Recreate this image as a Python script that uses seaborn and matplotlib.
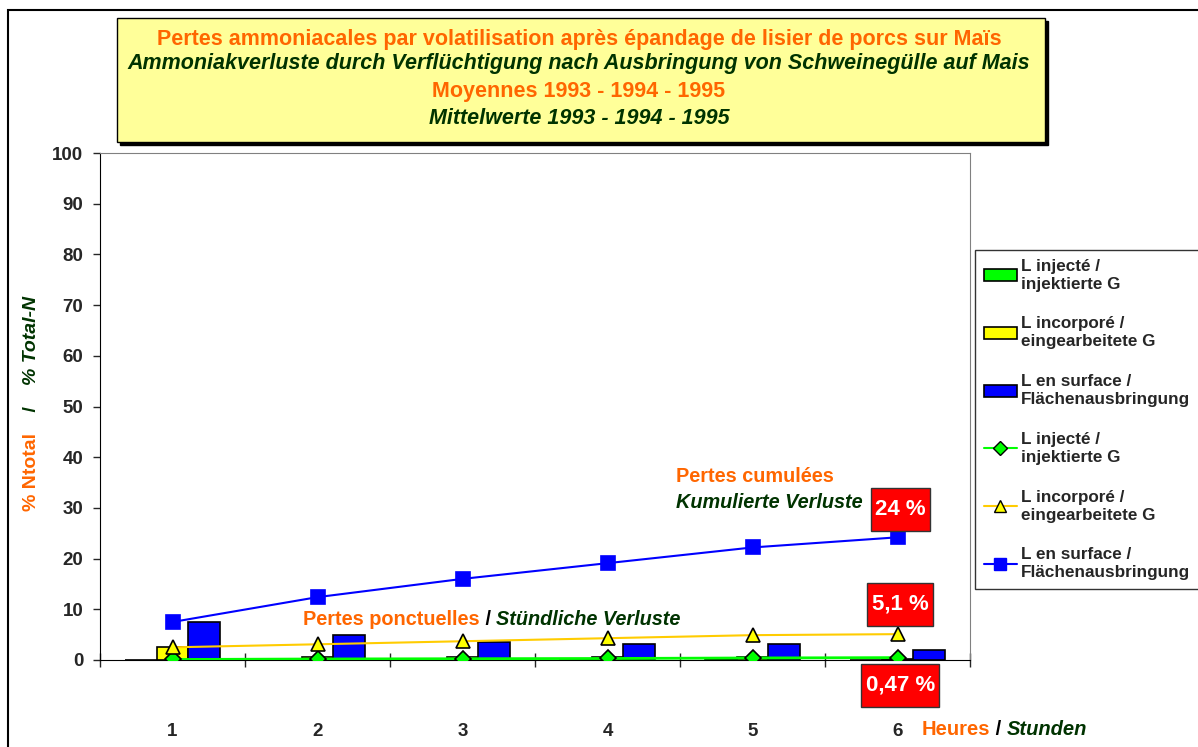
import numpy as np
import pandas as pd
import matplotlib
matplotlib.use("Agg")
import matplotlib.pyplot as plt
import seaborn as sns
from matplotlib.patches import Patch, Rectangle
from matplotlib.lines import Line2D

# données
hours = ["1", "2", "3", "4", "5", "6"]
series = ["L injecté /\ninjektierte G", "L incorporé /\neingearbeitete G",
          "L en surface /\nFlächenausbringung"]
# pertes ponctuelles (barres)
hourly_inj = [0.0, 0.1, 0.1, 0.1, 0.1, 0.05]
hourly_inc = [2.5, 0.6, 0.5, 0.5, 0.6, 0.2]
hourly_surf = [7.5, 4.9, 3.5, 3.2, 3.1, 2.0]
# pertes cumulées (courbes)
cum_inj = [0.1, 0.2, 0.25, 0.3, 0.4, 0.47]
cum_inc = [2.5, 3.1, 3.7, 4.3, 4.9, 5.1]
cum_surf = [7.5, 12.4, 16.0, 19.1, 22.2, 24.2]
final_labels = ["0,47 %", "5,1 %", "24 %"]

ORANGE = "#FF6600"
DKGREEN = "#003300"
bar_colors = ["#00FF00", "#FFFF00", "#0000FF"]
line_colors = ["#00FF00", "#FFCC00", "#0000FF"]
W, H = 1198, 747

sns.set_style("white")
plt.rcParams["font.family"] = ["Liberation Sans", "DejaVu Sans"]
plt.rcParams["font.weight"] = "bold"

df = pd.DataFrame({
    "heure": hours * 3,
    "serie": np.repeat(series, 6),
    "valeur": hourly_inj + hourly_inc + hourly_surf,
})

fig = plt.figure(figsize=(W / 100, H / 100), dpi=100)
ax = fig.add_axes([100 / W, 87 / H, 870 / W, 507 / H])

sns.barplot(data=df, x="heure", y="valeur", hue="serie", hue_order=series,
            palette=bar_colors, width=0.66, edgecolor="black", linewidth=1.2,
            saturation=1, legend=False, ax=ax)

markers = ["D", "^", "s"]
msizes = [8, 10, 10]
edges = ["black", "black", "#0000FF"]
faces = ["#00FF00", "#FFFF00", "#0000FF"]
for vals, col, mk, ms, ec, fc, lw in zip([cum_inj, cum_inc, cum_surf], line_colors,
                                         markers, msizes, edges, faces, [2.0, 1.5, 1.5]):
    sns.lineplot(x=np.arange(len(hours)), y=vals, color=col, marker=mk,
                 markersize=ms, markeredgecolor=ec, markeredgewidth=1.2,
                 markerfacecolor=fc, linewidth=lw, ax=ax, zorder=5)

ax.set_xlim(-0.5, 5.5)
ax.set_ylim(0, 100)
ax.set_yticks(range(0, 101, 10))
ax.set_xlabel("")
ax.set_ylabel("")
for s in ["top", "right"]:
    ax.spines[s].set_color("#808080")
for s in ["left", "bottom"]:
    ax.spines[s].set_color("black")
ax.tick_params(axis="y", left=True, direction="out", length=5, width=1,
               labelsize=13.5, pad=7)
ax.tick_params(axis="x", which="major", length=0, labelsize=13.5, pad=45)
ax.set_xticks(np.arange(-0.5, 5.6, 1), minor=True)
ax.tick_params(axis="x", which="minor", bottom=True, direction="inout",
               length=10, width=1)
for lab in ax.get_xticklabels() + ax.get_yticklabels():
    lab.set_fontweight("bold")

# étiquettes rouges (centre y, largeur en px)
px_x = 1 / 145.0
px_y = 100 / 507.0
for txt, yv, wpx in zip(final_labels, [-5.0, 10.95, 29.6], [78, 66, 59]):
    xc = 5.02
    ax.add_patch(Rectangle((xc - wpx * px_x / 2, yv - 43 * px_y / 2),
                           wpx * px_x, 43 * px_y, facecolor="#FF0000",
                           edgecolor="#333333", lw=1, clip_on=False, zorder=9))
    ax.text(xc, yv, txt, color="white", fontsize=16, fontweight="bold",
            ha="center", va="center", clip_on=False, zorder=10)

# annotations
FS = 14.3
ax.text(3.47, 36.1, "Pertes cumulées", color=ORANGE, fontsize=FS,
        fontweight="bold", va="center")
ax.text(3.47, 31.0, "Kumulierte Verluste", color=DKGREEN, fontsize=FS,
        fontweight="bold", style="italic", va="center")
t1 = ax.text(0.90, 7.9, "Pertes ponctuelles", color=ORANGE, fontsize=FS,
             fontweight="bold", va="center")
t2 = ax.annotate(" / ", xy=(1, 0), xycoords=t1, va="bottom", fontsize=FS,
                 fontweight="bold", color="black")
ax.annotate("Stündliche Verluste", xy=(1, 0), xycoords=t2, va="bottom",
            fontsize=FS, fontweight="bold", style="italic", color=DKGREEN)

h1 = ax.text(5.166, -13.8, "Heures", color=ORANGE, fontsize=14.5,
             fontweight="bold", va="center", clip_on=False)
h2 = ax.annotate(" / ", xy=(1, 0), xycoords=h1, va="bottom", fontsize=14.5,
                 fontweight="bold", color="black")
ax.annotate("Stunden", xy=(1, 0), xycoords=h2, va="bottom", fontsize=14.5,
            fontweight="bold", style="italic", color=DKGREEN)

# titre de l'axe y
y1 = fig.text(0.026, (H - 511) / H, "% Ntotal", rotation=90, color=ORANGE,
              fontsize=14, fontweight="bold", ha="center", va="bottom")
y2 = ax.annotate("    /    ", xy=(0.5, 1), xycoords=y1, rotation=90, color=DKGREEN,
                 fontsize=14, fontweight="bold", ha="center", va="bottom")
ax.annotate("% Total-N", xy=(0.5, 1), xycoords=y2, rotation=90, color=DKGREEN,
            fontsize=14, fontweight="bold", style="italic", ha="center",
            va="bottom")

# boîte du titre
fig.patches.append(Rectangle((120 / W, (H - 145) / H), 928 / W, 124 / H,
                             transform=fig.transFigure, facecolor="black",
                             edgecolor="black", zorder=0))
fig.patches.append(Rectangle((117 / W, (H - 142) / H), 928 / W, 124 / H,
                             transform=fig.transFigure, facecolor="#FFFF99",
                             edgecolor="black", lw=1, zorder=1))
title_lines = [
    ("Pertes ammoniacales par volatilisation après épandage de lisier de porcs sur Maïs", ORANGE, "normal", 40),
    ("Ammoniakverluste durch Verflüchtigung nach Ausbringung von Schweinegülle auf Mais", DKGREEN, "italic", 64),
    ("Moyennes 1993 - 1994 - 1995", ORANGE, "normal", 92),
    ("Mittelwerte 1993 - 1994 - 1995", DKGREEN, "italic", 119),
]
for txt, col, st, ypx in title_lines:
    fig.text(579 / W, 1 - ypx / H, txt, color=col, style=st, fontsize=15.5,
             fontweight="bold", ha="center", va="center", zorder=3)

# cadre extérieur
fig.patches.append(Rectangle((8 / W, -0.1), 1.2, (H - 10) / H + 0.1,
                             transform=fig.transFigure, fill=False,
                             edgecolor="black", lw=1.5, zorder=0))

# légende
handles = [Patch(facecolor=c, edgecolor="black", lw=1.2) for c in bar_colors]
handles += [Line2D([], [], color=lc, marker=mk, markersize=ms * 0.9,
                   markerfacecolor=fc, markeredgecolor=ec, lw=1.5)
            for lc, mk, ms, ec, fc in zip(line_colors, markers, msizes, edges, faces)]
leg = fig.legend(handles, series * 2, loc="upper left",
                 bbox_to_anchor=(975 / W, 1 - 250 / H),
                 frameon=True, fancybox=False, labelspacing=1.45,
                 handlelength=1.95, handletextpad=0.25, borderpad=0.5,
                 borderaxespad=0, prop={"weight": "bold", "size": 12.3})
leg.get_frame().set_edgecolor("black")
leg.get_frame().set_linewidth(1)
for t in leg.get_texts():
    t.set_linespacing(1.25)

fig.savefig("out.png", dpi=100)
